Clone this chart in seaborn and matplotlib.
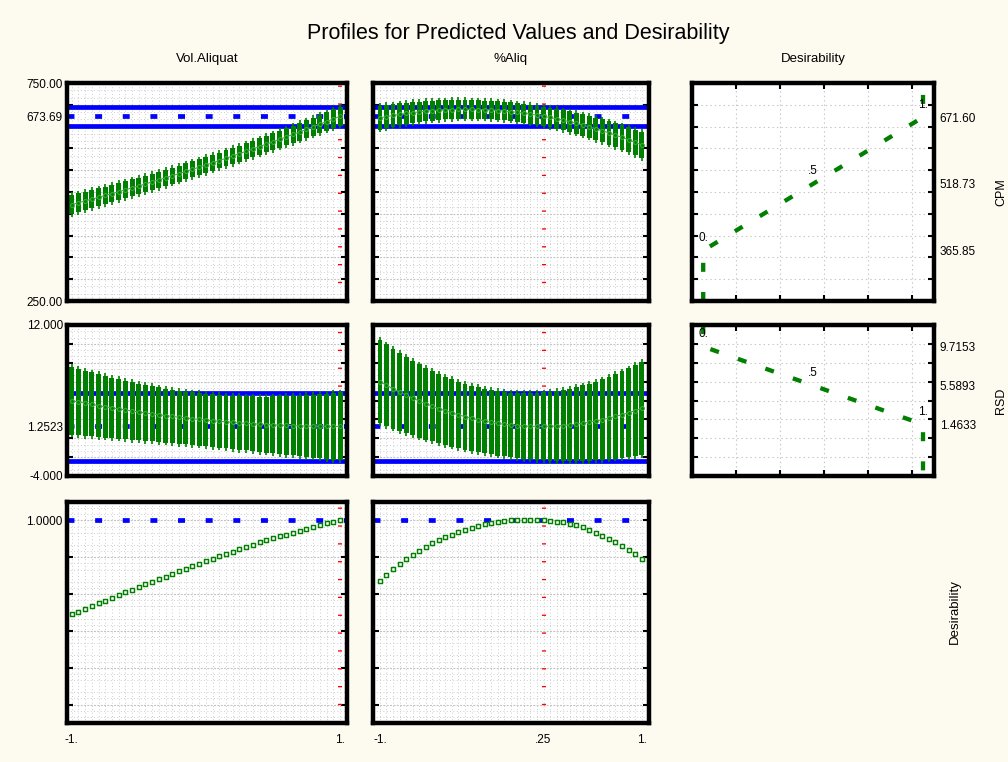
import matplotlib
matplotlib.use("Agg")
import matplotlib.pyplot as plt
from matplotlib.ticker import FixedLocator, NullLocator
import numpy as np
import pandas as pd
import seaborn as sns

# ---------------------------------------------------------------- data
vol_levels = [-1.0, -0.95, -0.9, -0.85, -0.8, -0.75, -0.7, -0.65, -0.6, -0.55,
              -0.5, -0.45, -0.4, -0.35, -0.3, -0.25, -0.2, -0.15, -0.1, -0.05,
              0.0, 0.05, 0.1, 0.15, 0.2, 0.25, 0.3, 0.35, 0.4, 0.45,
              0.5, 0.55, 0.6, 0.65, 0.7, 0.75, 0.8, 0.85, 0.9, 0.95, 1.0]
aliq_levels = [-1.0, -0.95, -0.9, -0.85, -0.8, -0.75, -0.7, -0.65, -0.6, -0.55,
               -0.5, -0.45, -0.4, -0.35, -0.3, -0.25, -0.2, -0.15, -0.1, -0.05,
               0.0, 0.05, 0.1, 0.15, 0.2, 0.25, 0.3, 0.35, 0.4, 0.45,
               0.5, 0.55, 0.6, 0.65, 0.7, 0.75, 0.8, 0.85, 0.9, 0.95, 1.0]

# CPM profile vs Vol.Aliquat (predicted value and half confidence width)
cpm_vol = [471.3, 475.3, 479.4, 483.6, 487.8, 492.0, 496.3, 500.7, 505.1, 509.5,
           514.0, 518.6, 523.2, 527.9, 532.6, 537.4, 542.2, 547.1, 552.0, 557.0,
           562.0, 567.1, 572.2, 577.4, 582.7, 588.0, 593.3, 598.7, 604.2, 609.7,
           615.2, 620.8, 626.5, 632.2, 638.0, 643.8, 649.7, 655.6, 661.6, 667.6, 673.7]
cpm_vol_half = [22.0, 21.7, 21.3, 21.0, 20.7, 20.4, 20.1, 19.8, 19.6, 19.4,
                19.2, 19.0, 18.8, 18.7, 18.6, 18.5, 18.4, 18.3, 18.3, 18.3,
                18.3, 18.3, 18.3, 18.3, 18.4, 18.5, 18.6, 18.7, 18.8, 19.0,
                19.2, 19.4, 19.6, 19.8, 20.1, 20.4, 20.7, 21.0, 21.3, 21.7, 22.0]
# CPM profile vs %Aliq
cpm_aliq = [670.0, 672.9, 675.5, 677.9, 680.1, 682.1, 683.8, 685.3, 686.6, 687.6,
            688.5, 689.1, 689.4, 689.6, 689.5, 689.2, 688.7, 687.9, 686.9, 685.7,
            684.3, 682.6, 680.7, 678.6, 676.3, 673.7, 670.9, 667.9, 664.6, 661.2,
            657.5, 653.5, 649.4, 645.0, 640.4, 635.6, 630.5, 625.2, 619.7, 614.0, 608.0]
cpm_aliq_half = [27.0, 26.4, 25.8, 25.3, 24.7, 24.2, 23.7, 23.3, 22.9, 22.5,
                 22.1, 21.8, 21.6, 21.3, 21.2, 21.0, 20.9, 20.9, 20.8, 20.9,
                 21.0, 21.1, 21.3, 21.5, 21.7, 22.0, 22.3, 22.7, 23.1, 23.5,
                 24.0, 24.5, 25.0, 25.6, 26.1, 26.7, 27.4, 28.0, 28.6, 29.3, 30.0]
# RSD profile vs Vol.Aliquat
rsd_vol = [3.98, 3.85, 3.71, 3.59, 3.46, 3.34, 3.22, 3.11, 3.00, 2.89,
           2.78, 2.68, 2.59, 2.49, 2.40, 2.31, 2.23, 2.15, 2.07, 2.00,
           1.93, 1.86, 1.80, 1.74, 1.68, 1.63, 1.58, 1.54, 1.49, 1.45,
           1.42, 1.39, 1.36, 1.33, 1.31, 1.29, 1.28, 1.27, 1.26, 1.25, 1.25]
rsd_vol_half = [3.60, 3.53, 3.46, 3.39, 3.33, 3.27, 3.21, 3.15, 3.10, 3.05,
                3.01, 2.96, 2.93, 2.89, 2.86, 2.84, 2.82, 2.80, 2.79, 2.78,
                2.78, 2.78, 2.79, 2.80, 2.82, 2.84, 2.86, 2.89, 2.93, 2.96,
                3.01, 3.05, 3.10, 3.15, 3.21, 3.27, 3.33, 3.39, 3.46, 3.53, 3.60]
# RSD profile vs %Aliq
rsd_aliq = [6.00, 5.62, 5.25, 4.91, 4.57, 4.26, 3.95, 3.67, 3.40, 3.15,
            2.91, 2.69, 2.48, 2.29, 2.12, 1.96, 1.82, 1.69, 1.58, 1.48,
            1.41, 1.34, 1.30, 1.27, 1.25, 1.25, 1.27, 1.30, 1.35, 1.41,
            1.49, 1.59, 1.70, 1.83, 1.97, 2.13, 2.31, 2.50, 2.71, 2.93, 3.17]
rsd_aliq_half = [4.42, 4.32, 4.22, 4.13, 4.04, 3.96, 3.88, 3.81, 3.74, 3.68,
                 3.62, 3.57, 3.53, 3.49, 3.46, 3.44, 3.42, 3.41, 3.41, 3.41,
                 3.43, 3.45, 3.48, 3.51, 3.55, 3.60, 3.65, 3.71, 3.78, 3.85,
                 3.92, 4.01, 4.09, 4.18, 4.27, 4.37, 4.47, 4.58, 4.69, 4.80, 4.91]
# overall desirability profiles
des_vol = [0.490, 0.505, 0.520, 0.535, 0.550, 0.565, 0.580, 0.594, 0.609, 0.624,
           0.638, 0.653, 0.667, 0.681, 0.695, 0.709, 0.723, 0.737, 0.751, 0.765,
           0.778, 0.791, 0.805, 0.818, 0.831, 0.844, 0.856, 0.869, 0.881, 0.893,
           0.903, 0.913, 0.923, 0.933, 0.943, 0.954, 0.964, 0.974, 0.984, 0.994, 1.000]
des_aliq = [0.669, 0.705, 0.735, 0.764, 0.790, 0.813, 0.836, 0.856, 0.875, 0.892,
            0.908, 0.923, 0.936, 0.949, 0.960, 0.970, 0.979, 0.986, 0.993, 0.999,
            1.000, 1.000, 1.000, 1.000, 1.000, 1.000, 0.999, 0.994, 0.989, 0.983,
            0.975, 0.963, 0.949, 0.934, 0.918, 0.900, 0.882, 0.861, 0.840, 0.817, 0.793]

# current settings and predictions
vol_current = 1.0
aliq_current = 0.25
cpm_pred, cpm_ci = 673.69, [651.7, 695.7]
rsd_pred, rsd_ci = 1.2523, [-2.4, 4.8]
des_pred = 1.0
cpm_whisker_pad = 6.0
rsd_whisker_pad = 0.3

# desirability functions (desirability level vs response value)
des_fun_levels = [0.0, 0.0, 1.0, 1.0]
cpm_fun_values = [250.0, 365.85, 671.60, 750.0]
rsd_fun_values = [12.0, 9.7153, 1.4633, -4.0]
des_marks = [0.0, 0.5, 1.0]
des_mark_labels = ["0.", ".5", "1."]
cpm_marks = [365.85, 518.73, 671.60]
rsd_marks = [9.7153, 5.5893, 1.4633]

title = "Profiles for Predicted Values and Desirability"
col_titles = ["Vol.Aliquat", "%Aliq", "Desirability"]

# ---------------------------------------------------------------- style
sns.set_style("white")
plt.rcParams["font.family"] = ["Liberation Sans", "DejaVu Sans"]
plt.rcParams["lines.scale_dashes"] = False
plt.rcParams["text.color"] = "black"
plt.rcParams["axes.labelcolor"] = "black"
plt.rcParams["xtick.color"] = "black"
plt.rcParams["ytick.color"] = "black"

BG = "#FDFAF0"
GREEN = "#007F00"
GREEN_L = "#3FAE3F"
BLUE = "#0000FF"
RED = "#FF0000"
GRID_C = "#C6C6C6"
GRID_M = "#C2C2C2"
FS = 8.5

W, H = 1008, 762
fig = plt.figure(figsize=(W / 100, H / 100), dpi=100)
fig.patch.set_facecolor(BG)


def rect(l, t, r, b):
    return [l / W, 1 - b / H, (r - l) / W, (b - t) / H]


cols = [(67, 347), (373, 649), (692, 934)]
rows = [(83, 301), (325, 476), (502, 723)]


def frame(ax):
    ax.set_facecolor("white")
    for sp in ax.spines.values():
        sp.set_linewidth(3.2)
        sp.set_color("black")
        sp.set_zorder(10)
        sp.set_visible(True)


def grid(ax, xs, ymaj, ymin):
    for v in xs:
        ax.axvline(v, color=GRID_C, lw=0.7, dashes=(0.6, 1.8), zorder=0)
    for v in ymin:
        ax.axhline(v, color=GRID_C, lw=0.7, dashes=(0.6, 1.8), zorder=0)
    for v in ymaj:
        ax.axhline(v, color=GRID_M, lw=0.8, dashes=(1.3, 1.1), zorder=0.2)


def setup_y(ax, ylim, ticks, labels, ymaj, show):
    ax.set_ylim(*ylim)
    if show:
        ax.set_yticks(ticks)
        ax.set_yticklabels(labels, fontsize=FS)
    else:
        ax.set_yticks([])
    ax.yaxis.set_minor_locator(FixedLocator(ymaj))
    ax.tick_params(axis="y", which="major", length=0, pad=3, labelcolor="black")
    ax.tick_params(axis="y", which="minor", direction="in", length=4, width=1.5,
                   left=True, right=True, color="black")


def setup_x(ax, xlim, ticks, labels, show):
    ax.set_xlim(*xlim)
    if show:
        ax.set_xticks(ticks)
        ax.set_xticklabels(labels, fontsize=FS)
    else:
        ax.set_xticks([])
    ax.xaxis.set_minor_locator(NullLocator())
    ax.tick_params(axis="x", which="major", length=0, pad=8, labelcolor="black")


def profile(ax, x, center, half, pad, ci, pred, current):
    df = pd.DataFrame({"x": x, "c": center, "h": half})
    lo = df["c"] - df["h"]
    hi = df["c"] + df["h"]
    ax.axvline(current, color=RED, lw=2.9, dashes=(0.95, 11.9), zorder=1)
    for v in ci:
        ax.axhline(v, color=BLUE, lw=3.4, zorder=2, solid_capstyle="butt")
    ax.axhline(pred, color=BLUE, lw=3.4, dashes=(5.0, 14.9), dash_capstyle="butt", zorder=2)
    ax.vlines(df["x"], lo - pad, hi + pad, color=GREEN, lw=1.2, zorder=3)
    ax.bar(df["x"], 2 * df["h"], bottom=lo, width=0.037, color=GREEN, linewidth=0, zorder=3)
    sns.lineplot(data=df, x="x", y="c", ax=ax, color=GREEN_L, lw=0.8, marker="o",
                 markersize=2.8, markeredgecolor=GREEN_L, markerfacecolor=GREEN,
                 markeredgewidth=0.7, estimator=None, sort=False, zorder=4, legend=False)


def des_profile(ax, x, d, pred, current):
    ax.axvline(current, color=RED, lw=2.9, dashes=(0.95, 11.9), zorder=1)
    ax.axhline(pred, color=BLUE, lw=3.4, dashes=(5.0, 14.9), dash_capstyle="butt", zorder=2)
    df = pd.DataFrame({"x": x, "d": d})
    sns.scatterplot(data=df, x="x", y="d", ax=ax, marker="s", s=8, color="white",
                    edgecolor=GREEN, linewidth=1.05, zorder=4, legend=False)


def minor_steps(lo, hi, step, sub):
    vals = np.arange(lo, hi + 1e-9, step / sub)
    return [v for v in vals if abs(((v - lo) / step) - round((v - lo) / step)) > 1e-6]


xlims = [(-1.035, 1.052), (-1.053, 1.056)]
xcur = [vol_current, aliq_current]
xlev = [vol_levels, aliq_levels]
cpm_series = [(cpm_vol, cpm_vol_half), (cpm_aliq, cpm_aliq_half)]
rsd_series = [(rsd_vol, rsd_vol_half), (rsd_aliq, rsd_aliq_half)]
des_series = [des_vol, des_aliq]
xt = [([-1, 1], ["-1.", "1."]), ([-1, 0.25, 1], ["-1.", ".25", "1."])]

cpm_major = [300, 350, 400, 450, 500, 550, 600, 650, 700]
rsd_major = [-2, 0, 2, 4, 6, 8, 10]
des_major = [0.0, 0.2, 0.4, 0.6, 0.8, 1.0]

for c in range(2):
    l, r = cols[c]
    # row 1: CPM
    ax = fig.add_axes(rect(l, rows[0][0], r, rows[0][1]))
    frame(ax)
    grid(ax, xlev[c], cpm_major, minor_steps(250, 750, 50, 3))
    profile(ax, xlev[c], cpm_series[c][0], cpm_series[c][1], cpm_whisker_pad,
            cpm_ci, cpm_pred, xcur[c])
    setup_x(ax, xlims[c], [], [], False)
    setup_y(ax, (250, 750), [250, cpm_pred, 750], ["250.00", "673.69", "750.00"],
            cpm_major, c == 0)
    ax.set_xlabel("")
    ax.set_ylabel("")
    # row 2: RSD
    ax = fig.add_axes(rect(l, rows[1][0], r, rows[1][1]))
    frame(ax)
    grid(ax, xlev[c], rsd_major, minor_steps(-4, 12, 2, 3))
    profile(ax, xlev[c], rsd_series[c][0], rsd_series[c][1], rsd_whisker_pad,
            rsd_ci, rsd_pred, xcur[c])
    setup_x(ax, xlims[c], [], [], False)
    setup_y(ax, (-4, 12), [-4, rsd_pred, 12], ["-4.000", "1.2523", "12.000"],
            rsd_major, c == 0)
    ax.set_xlabel("")
    ax.set_ylabel("")
    # row 3: Desirability
    ax = fig.add_axes(rect(l, rows[2][0], r, rows[2][1]))
    frame(ax)
    grid(ax, xlev[c], des_major, minor_steps(-0.1, 1.1, 0.2, 6))
    des_profile(ax, xlev[c], des_series[c], des_pred, xcur[c])
    setup_x(ax, xlims[c], xt[c][0], xt[c][1], True)
    setup_y(ax, (-0.1, 1.1), [des_pred], ["1.0000"], des_major, c == 0)
    ax.set_xlabel("")
    ax.set_ylabel("")

# desirability functions (column 3)
l, r = cols[2]
des_cfg = [
    (rows[0], cpm_fun_values, cpm_marks, (250, 750), [365.85, 518.73, 671.60],
     ["365.85", "518.73", "671.60"], cpm_major, "CPM"),
    (rows[1], rsd_fun_values, rsd_marks, (-4, 12), [1.4633, 5.5893, 9.7153],
     ["1.4633", "5.5893", "9.7153"], rsd_major, "RSD"),
]
des_vgrid = [0.15, 0.35, 0.55, 0.75, 0.95]
for (rw, vals, marks, ylim, ticks, labels, ymaj, name) in des_cfg:
    ax = fig.add_axes(rect(l, rw[0], r, rw[1]))
    frame(ax)
    for v in des_vgrid:
        ax.axvline(v, color=GRID_C, lw=0.8, dashes=(1.0, 2.2), zorder=0)
    for v in ymaj:
        ax.axhline(v, color=GRID_C, lw=0.8, dashes=(1.0, 2.2), zorder=0)
    df = pd.DataFrame({"d": des_fun_levels, "v": vals})
    sns.lineplot(data=df, x="d", y="v", ax=ax, color=GREEN, lw=3.1,
                 estimator=None, sort=False, zorder=3, legend=False,
                 linestyle=(0, (6.5, 14.5)), dash_capstyle="butt")
    ax.set_xlim(-0.051, 1.05)
    ax.set_ylim(*ylim)
    ax.set_xticks([])
    ax.xaxis.set_minor_locator(FixedLocator(des_vgrid))
    ax.tick_params(axis="x", which="minor", direction="in", length=4, width=1.5,
                   top=True, bottom=True, color="black")
    ax.yaxis.tick_right()
    ax.set_yticks(ticks)
    ax.set_yticklabels(labels, fontsize=FS)
    ax.yaxis.set_minor_locator(FixedLocator(ymaj))
    ax.tick_params(axis="y", which="major", length=0, pad=4, labelcolor="black")
    ax.tick_params(axis="y", which="minor", direction="in", length=4, width=1.5,
                   left=True, right=True, color="black")
    for dm, vm, lab in zip(des_marks, marks, des_mark_labels):
        ax.annotate(lab, (dm, vm), xytext=(0, 9), textcoords="offset points",
                    ha="center", va="center", fontsize=FS, zorder=6)
    ax.set_xlabel("")
    ax.yaxis.set_label_position("right")
    ax.set_ylabel(name, fontsize=9, rotation=90)
    ax.yaxis.set_label_coords((995 - l) / (r - l), 0.5)

# titles
fig.text(518 / W, 1 - 33 / H, title, ha="center", va="center", fontsize=15.5)
for (l, r), t in zip(cols, col_titles):
    fig.text((l + r) / 2 / W, 1 - 59 / H, t, ha="center", va="center", fontsize=9.5)
fig.text(955 / W, 1 - 612 / H, "Desirability", ha="center", va="center",
         rotation=90, fontsize=9.5)

fig.savefig("out.png", dpi=100, facecolor=BG)
